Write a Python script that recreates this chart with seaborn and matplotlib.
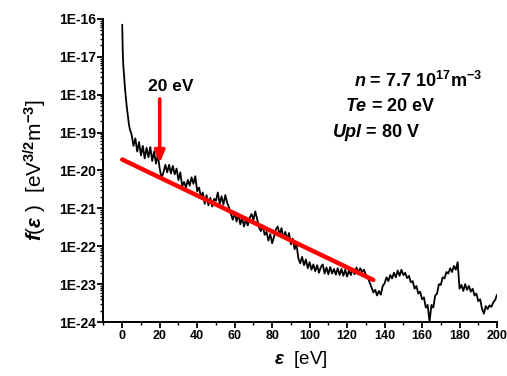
import numpy as np
import pandas as pd
import matplotlib
matplotlib.use("Agg")
import matplotlib.pyplot as plt
from matplotlib.ticker import MultipleLocator, LogLocator, FuncFormatter, NullFormatter
import seaborn as sns

# Electron energy distribution function, log10 of f(eps) in eV^-3/2 m^-3
head_energy = [0.0, 0.3, 0.6, 1.0, 1.5, 2.0, 2.5, 3.0, 3.5, 4.0]
head_logf = [-16.15, -16.90, -17.25, -17.50, -17.85, -18.10, -18.35, -18.55, -18.75, -18.90]

body_energy = list(range(5, 201))
body_logf = [
    -19.05, -19.35, -19.15, -19.50, -19.25, -19.60, -19.35, -19.68, -19.40, -19.65,   # 5-14
    -19.38, -19.75, -19.50, -19.82, -19.58, -19.95, -20.20, -20.05, -19.85, -20.05,   # 15-24
    -19.85, -20.08, -19.88, -20.10, -19.95, -20.25, -20.05, -20.42, -20.30, -20.45,   # 25-34
    -20.25, -20.40, -20.18, -20.35, -20.15, -20.55, -20.45, -20.70, -20.58, -20.88,   # 35-44
    -20.65, -20.92, -20.72, -20.95, -20.75, -20.80, -20.58, -20.88, -20.68, -20.90,   # 45-54
    -20.65, -20.85, -20.98, -21.15, -21.30, -21.10, -21.35, -21.15, -21.42, -21.25,   # 55-64
    -21.48, -21.28, -21.45, -21.25, -21.15, -21.30, -21.08, -21.28, -21.50, -21.60,   # 65-74
    -21.45, -21.70, -21.62, -21.85, -21.68, -21.92, -21.75, -21.55, -21.48, -21.70,   # 75-84
    -21.52, -21.78, -21.62, -21.82, -21.65, -21.95, -21.80, -22.08, -21.95, -22.32,   # 85-94
    -22.45, -22.28, -22.50, -22.35, -22.58, -22.42, -22.62, -22.48, -22.66, -22.50,   # 95-104
    -22.70, -22.55, -22.48, -22.72, -22.56, -22.74, -22.55, -22.72, -22.60, -22.75,   # 105-114
    -22.58, -22.76, -22.60, -22.78, -22.62, -22.80, -22.64, -22.76, -22.60, -22.74,   # 115-124
    -22.56, -22.70, -22.58, -22.68, -22.62, -22.75, -22.82, -22.95, -23.08, -23.22,   # 125-134
    -23.15, -23.30, -23.18, -23.28, -23.05, -22.98, -22.82, -22.92, -22.76, -22.85,   # 135-144
    -22.70, -22.82, -22.64, -22.78, -22.62, -22.76, -22.70, -22.84, -22.78, -22.95,   # 145-154
    -22.92, -23.12, -23.05, -23.25, -23.20, -23.40, -23.35, -23.62, -23.55, -24.00,   # 155-164
    -23.55, -23.62, -23.30, -23.25, -23.00, -23.02, -22.82, -22.85, -22.68, -22.72,   # 165-174
    -22.58, -22.68, -22.52, -22.62, -22.42, -23.12, -23.02, -23.18, -23.00, -23.15,   # 175-184
    -23.05, -23.20, -23.12, -23.30, -23.25, -23.45, -23.40, -23.65, -23.78, -23.58,   # 185-194
    -23.66, -23.56, -23.60, -23.48, -23.42, -23.28,                                   # 195-200
]

# Maxwellian fit over 0-134 eV (end points, log10 f)
fit_energy = [0.0, 134.0]
fit_logf = [-19.71, -22.89]

# Arrow marking the 20 eV point
arrow_energy = 20.0
arrow_top_logf = -18.11
arrow_tip_logf = -19.80

sns.set_style("ticks")
plt.rcParams["font.family"] = ["Liberation Sans", "DejaVu Sans"]
plt.rcParams["font.weight"] = "bold"
plt.rcParams["mathtext.fontset"] = "custom"
plt.rcParams["mathtext.rm"] = "Liberation Sans:bold"
plt.rcParams["mathtext.bf"] = "Liberation Sans:bold"
plt.rcParams["mathtext.it"] = "Liberation Sans:bold:italic"
plt.rcParams["mathtext.default"] = "rm"
for key in ("text.color", "axes.labelcolor", "xtick.color", "ytick.color", "axes.edgecolor"):
    plt.rcParams[key] = "black"

eedf = pd.DataFrame({
    "energy": head_energy + body_energy,
    "f": 10.0 ** np.array(head_logf + body_logf),
})
fit = pd.DataFrame({"energy": fit_energy, "f": 10.0 ** np.array(fit_logf)})

fig = plt.figure(figsize=(5.07, 3.76), dpi=100)
ax = fig.add_axes([0.2041, 0.1436, 0.7762, 0.8059])

sns.lineplot(data=eedf, x="energy", y="f", ax=ax, color="black", linewidth=1.3,
             sort=False, estimator=None, zorder=2)
sns.lineplot(data=fit, x="energy", y="f", ax=ax, color="#ff0000", linewidth=3.2,
             sort=False, estimator=None, zorder=3)

ax.set_yscale("log")
ax.set_xlim(-10, 200)
ax.set_ylim(1e-24, 1e-16)

ax.annotate("", xy=(arrow_energy, 10 ** arrow_tip_logf),
            xytext=(arrow_energy, 10 ** arrow_top_logf),
            arrowprops=dict(arrowstyle="-|>,head_length=0.7,head_width=0.3",
                            color="#ff0000", lw=2.6, shrinkA=0, shrinkB=0),
            zorder=4)
ax.text(26, 10 ** -17.77, "20 eV", ha="center", va="center",
        fontsize=12.5, fontweight="bold")

ax.text(0.636, 0.795, r"$\mathit{n}$ = 7.7 10$^{17}$m$^{-3}$", transform=ax.transAxes,
        ha="left", va="center", fontsize=13)
ax.text(0.614, 0.71, r"$\mathit{Te}$ = 20 eV", transform=ax.transAxes,
        ha="left", va="center", fontsize=13)
ax.text(0.58, 0.625, r"$\mathit{Upl}$ = 80 V", transform=ax.transAxes,
        ha="left", va="center", fontsize=13)

ax.set_xlabel(r"$\mathit{\varepsilon}$  [eV]", fontsize=13.5, labelpad=5)
ax.set_ylabel(r"$\mathit{f}$($\mathit{\varepsilon}$ )  [eV$^{3/2}$m$^{-3}$]", fontsize=15, labelpad=7)

ax.xaxis.set_major_locator(MultipleLocator(20))
ax.xaxis.set_minor_locator(MultipleLocator(10))
ax.yaxis.set_major_locator(LogLocator(base=10, numticks=20))
ax.yaxis.set_minor_locator(LogLocator(base=10, subs=np.arange(2, 10), numticks=20))
ax.yaxis.set_major_formatter(FuncFormatter(lambda v, _: f"1E{int(round(np.log10(v)))}"))
ax.yaxis.set_minor_formatter(NullFormatter())

ax.tick_params(which="major", direction="out", length=4, width=1.3, pad=1.5)
ax.tick_params(axis="x", which="major", labelsize=9)
ax.tick_params(axis="y", which="major", labelsize=10)
ax.tick_params(which="minor", direction="out", length=2.5, width=1.0)
for lab in ax.get_xticklabels() + ax.get_yticklabels():
    lab.set_fontweight("bold")

sns.despine(ax=ax)
for s in ("left", "bottom"):
    ax.spines[s].set_linewidth(1.4)

fig.savefig("out.png", dpi=100)
